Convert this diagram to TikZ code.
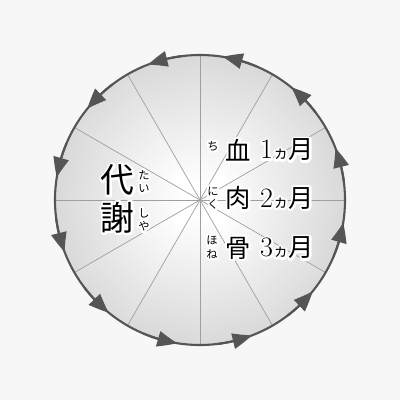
\documentclass[tikz,border=0pt]{standalone}
\usepackage{fontspec}
\newfontfamily\jpfont{Noto Sans CJK JP}
\usetikzlibrary{arrows.meta,bending}
\definecolor{paper}{HTML}{F7F7F7}
\definecolor{rim}{HTML}{555555}
% white outline behind the glyphs (stroke-only copy, then the normal text)
\newcommand\halo[1]{\leavevmode\rlap{\special{pdf:code 1 Tr 3.2 w 1 j 1 1 1 RG}#1\special{pdf:code 0 Tr}}#1}
\tikzset{
  wheel spoke/.style={draw=gray!75, line width=0.5pt},
  wheel rim/.style={draw=rim, line width=1.5pt},
  rim arrow/.style={
    draw=rim,
    line width=1.5pt,
    -{Triangle[length=14pt,width=11pt,bend]},
  },
  kanji big/.style={font=\jpfont\fontsize{24}{24}\selectfont, inner sep=0pt},
  kanji mid/.style={font=\jpfont\fontsize{18}{18}\selectfont, inner sep=0pt},
  ruby/.style={font=\jpfont\fontsize{8}{9.4}\selectfont, align=center, inner sep=0pt},
  span/.style={font=\fontsize{20}{20}\selectfont, inner sep=0pt},
}
\newcommand\kagetsu[1]{#1{\jpfont\fontsize{11}{11}\selectfont ヵ}{\jpfont\fontsize{18}{18}\selectfont 月}}

\begin{document}
\begin{tikzpicture}[x=0.025cm,y=0.025cm]
  \useasboundingbox[fill=paper] (0,0) rectangle (400,400);

  % sectors and spokes
  \begin{scope}[shift={(200,200)}]
    \foreach \a in {0,30,...,330}{
      \pgfmathsetmacro\sh{\a+105}
      \shade[left color=white, right color=gray!30, shading angle=\sh]
        (0,0) -- (\a:145) arc (\a:\a+30:145) -- cycle;
    }
    \foreach \a in {0,30,...,330}
      \draw[wheel spoke] (0,0) -- (\a:145);
    \draw[wheel rim] (0,0) circle (145);
    \foreach \a in {15,45,...,345}
      \draw[rim arrow] (\a-8:145) arc (\a-8:\a+6:145);
  \end{scope}

  % metabolism
  \node[kanji big] (dai) at (117.5,220) {\halo{代}};
  \node[kanji big] (sha) at (117.5,182.5) {\halo{謝}};
  \node[ruby] (dai ruby) at (144,218.5) {\halo{た}\\\halo{い}};
  \node[ruby] (sha ruby) at (144,180) {\halo{し}\\\halo{や}};

  % blood, flesh, bone
  \node[kanji mid] (blood) at (238,250) {\halo{血}};
  \node[kanji mid] (flesh) at (238,201.7) {\halo{肉}};
  \node[kanji mid] (bone) at (238,152) {\halo{骨}};
  \node[ruby] (blood ruby) at (213,254) {\halo{ち}};
  \node[ruby] (flesh ruby) at (213,202) {\halo{に}\\\halo{く}};
  \node[ruby] (bone ruby) at (212,152.5) {\halo{ほ}\\\halo{ね}};
  \node[span] (blood time) at (287,250) {\halo{\kagetsu{1}}};
  \node[span] (flesh time) at (287,201.7) {\halo{\kagetsu{2}}};
  \node[span] (bone time) at (287,152) {\halo{\kagetsu{3}}};
\end{tikzpicture}
\end{document}
